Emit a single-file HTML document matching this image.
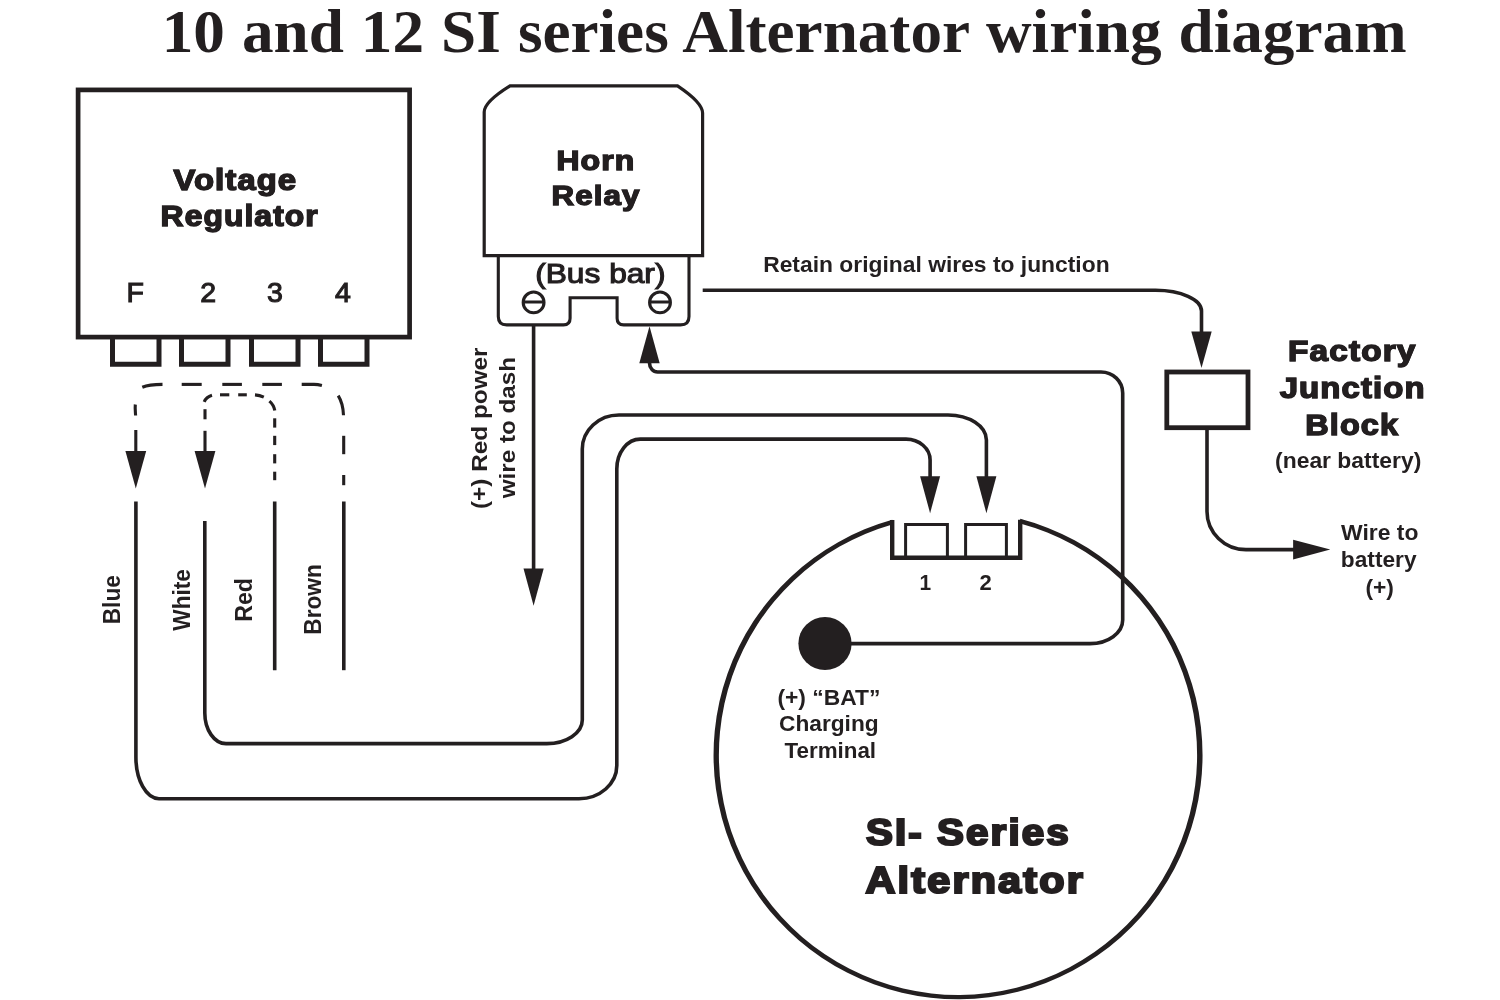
<!DOCTYPE html>
<html lang="en">
<head>
<meta charset="utf-8">
<title>10 and 12 SI series Alternator wiring diagram</title>
<style>
html,body{margin:0;padding:0;background:#fff;}
#page{position:relative;width:1500px;height:1000px;overflow:hidden;background:#fff;will-change:transform;filter:blur(0.55px);}
#art{position:absolute;left:0;top:0;display:block;}
.t{position:absolute;left:0;top:0;margin:0;padding:0;line-height:1;white-space:nowrap;color:#231f20;transform-origin:0 0;}
</style>
</head>
<body>
<div id="page">
<svg id="art" width="1500" height="1000" viewBox="0 0 1500 1000">
<!-- voltage regulator -->
<rect x="78.1" y="89.9" width="331.5" height="247.2" fill="none" stroke="#231f20" stroke-width="4.7"/>
<path d="M112.5,337 V364.3 H159.0 V337" fill="none" stroke="#231f20" stroke-width="5.0"/>
<path d="M181.5,337 V364.3 H228.0 V337" fill="none" stroke="#231f20" stroke-width="5.0"/>
<path d="M251.5,337 V364.3 H298.0 V337" fill="none" stroke="#231f20" stroke-width="5.0"/>
<path d="M320.5,337 V364.3 H367.0 V337" fill="none" stroke="#231f20" stroke-width="5.0"/>
<!-- dashed jumpers -->
<path d="M135.6,415.5 C135.3,411.5 134.9,408 135.3,404.5" fill="none" stroke="#231f20" stroke-width="3.1"/>
<path d="M142.3,387.2 C147.5,385 154,384.4 162.5,384.4" fill="none" stroke="#231f20" stroke-width="3.1"/>
<path d="M181.7,384.4 H201.7" fill="none" stroke="#231f20" stroke-width="3.1"/>
<path d="M222.3,384.4 H241.9" fill="none" stroke="#231f20" stroke-width="3.1"/>
<path d="M262.3,384.4 H281.9" fill="none" stroke="#231f20" stroke-width="3.1"/>
<path d="M301.7,384.4 H314 C317,384.4 319.5,384.8 321.9,385.4" fill="none" stroke="#231f20" stroke-width="3.1"/>
<path d="M338.2,395.6 C341.6,401 343.2,407.5 343.5,415.2" fill="none" stroke="#231f20" stroke-width="3.1"/>
<path d="M343.7,435.8 V454.2" fill="none" stroke="#231f20" stroke-width="3.1"/>
<path d="M343.7,475 V485.2" fill="none" stroke="#231f20" stroke-width="3.1"/>
<path d="M135.8,430 V453" fill="none" stroke="#231f20" stroke-width="3.1"/>
<path d="M205,430.8 V453" fill="none" stroke="#231f20" stroke-width="3.1"/>
<path d="M205,409.2 V419.3" fill="none" stroke="#231f20" stroke-width="3.1"/>
<path d="M204.2,401.8 C205.6,398.6 208.4,396.4 212,395.3" fill="none" stroke="#231f20" stroke-width="3.1"/>
<path d="M220,394.8 H229.3" fill="none" stroke="#231f20" stroke-width="3.1"/>
<path d="M238.2,394.8 H246.8" fill="none" stroke="#231f20" stroke-width="3.1"/>
<path d="M255,394.9 C258.4,395.2 261.2,396 263.8,397.2" fill="none" stroke="#231f20" stroke-width="3.1"/>
<path d="M269.4,401.2 C272.4,403.8 274.2,407 274.8,410.6" fill="none" stroke="#231f20" stroke-width="3.1"/>
<path d="M274.7,418.3 V427.6" fill="none" stroke="#231f20" stroke-width="3.1"/>
<path d="M274.7,435.8 V445.1" fill="none" stroke="#231f20" stroke-width="3.1"/>
<path d="M274.7,454.2 V463.4" fill="none" stroke="#231f20" stroke-width="3.1"/>
<path d="M274.7,471.7 V480.2" fill="none" stroke="#231f20" stroke-width="3.1"/>
<polygon points="135.8,488.5 125.4,451.0 135.8,451.0 146.2,451.0" fill="#231f20"/>
<polygon points="205.0,488.5 194.6,451.0 205.0,451.0 215.4,451.0" fill="#231f20"/>
<!-- wires -->
<path d="M135.9,501.5 V757.0 C135.9,780.0 146.2,798.7 159.0,798.7 H579.0 C599.9,798.7 616.8,783.9 616.8,765.6 V469.0 C616.8,452.5 627.3,439.1 640.3,439.1 H906.0 C919.3,439.1 930.1,448.5 930.1,460.0 V478.0" fill="none" stroke="#231f20" stroke-width="3.6"/>
<path d="M204.8,521.0 V713.0 C204.8,729.9 214.3,743.6 226.0,743.6 H546.8 C566.4,743.6 582.3,733.0 582.3,720.0 V449.0 C582.3,430.2 598.7,415.0 619.0,415.0 H948.0 C969.2,415.0 986.4,426.2 986.4,440.0 V478.0" fill="none" stroke="#231f20" stroke-width="3.6"/>
<path d="M274.7,501.5 V670.2" fill="none" stroke="#231f20" stroke-width="3.6"/>
<path d="M343.8,501.5 V670.2" fill="none" stroke="#231f20" stroke-width="3.6"/>
<polygon points="930.1,513.2 920.1,476.2 930.1,476.2 940.1,476.2" fill="#231f20"/>
<polygon points="986.4,513.2 976.4,476.2 986.4,476.2 996.4,476.2" fill="#231f20"/>
<!-- horn relay -->
<path d="M484.2,255.6 V112 Q484.2,101.8 510,85.8 H677.5 Q702.6,102.6 702.6,113 V255.6 Z" fill="none" stroke="#231f20" stroke-width="3.2" stroke-linejoin="miter"/>
<path d="M498.3,256 V316.5 Q498.3,324.9 506.7,324.9 H563.5 Q570.1,324.9 570.1,318.3 V297.7 H617.1 V318.3 Q617.1,324.9 623.7,324.9 H680.6 Q689,324.9 689,316.5 V256" fill="none" stroke="#231f20" stroke-width="3.1"/>
<circle cx="533.6" cy="302.4" r="10.4" fill="none" stroke="#231f20" stroke-width="3.1"/>
<path d="M523.6,302 H543.6" fill="none" stroke="#231f20" stroke-width="3"/>
<circle cx="660" cy="302.4" r="10.4" fill="none" stroke="#231f20" stroke-width="3.1"/>
<path d="M650,302 H670" fill="none" stroke="#231f20" stroke-width="3"/>
<path d="M533.6,326 V572" fill="none" stroke="#231f20" stroke-width="3.6"/>
<polygon points="533.6,605.8 523.5,568.4 533.6,568.4 543.7,568.4" fill="#231f20"/>
<path d="M850.0,643.6 H1090.0 C1108.1,643.6 1122.7,633.0 1122.7,620.0 V393.0 C1122.7,381.4 1113.0,372.0 1101.0,372.0 H657.6 C653.1,372.0 649.5,368.0 649.5,363.0 V360.0" fill="none" stroke="#231f20" stroke-width="3.6"/>
<polygon points="649.5,326.2 639.3,363.2 649.5,363.2 659.7,363.2" fill="#231f20"/>
<circle cx="825" cy="643.5" r="26.6" fill="#231f20"/>
<path d="M702.7,290.3 H1155.5 C1180.9,290.3 1201.5,299.6 1201.5,311.0 V335.0" fill="none" stroke="#231f20" stroke-width="3.6"/>
<polygon points="1201.5,368.0 1191.3,331.5 1201.5,331.5 1211.7,331.5" fill="#231f20"/>
<!-- junction block -->
<rect x="1166.8" y="372" width="81.2" height="55.7" fill="none" stroke="#231f20" stroke-width="4.8"/>
<path d="M1207.0,428.0 V511.5 C1207.0,532.5 1224.5,549.6 1246.0,549.6 H1296.0" fill="none" stroke="#231f20" stroke-width="3.6"/>
<polygon points="1330.3,549.6 1293.1,539.8 1293.1,549.6 1293.1,559.4" fill="#231f20"/>
<!-- alternator -->
<path d="M892.2,519.8 A244.5,244.2 0 1 0 1020.2,518.8 L1020.2,523.4 A239.1,239.9 0 1 1 892.2,524.4 Z" fill="#231f20"/>
<path d="M892.2,520 V557.7 H1020.2 V519.8" fill="none" stroke="#231f20" stroke-width="4.4" stroke-linejoin="miter"/>
<path d="M905.6,557 V524.6 H947.4 V557" fill="none" stroke="#231f20" stroke-width="3.0"/>
<path d="M965.6,557 V524.6 H1006.4 V557" fill="none" stroke="#231f20" stroke-width="3.0"/>
</svg>
<div class="t" style="font-family:'Liberation Serif','Times New Roman',Times,serif;font-weight:bold;font-size:61px;word-spacing:1.2px;transform:translate(161.72px,0.95px) scaleX(1.0359);">10 and 12 SI series Alternator wiring diagram</div>
<div class="t" style="font-family:'Liberation Sans',Arial,Helvetica,sans-serif;font-weight:bold;font-size:29.2px;-webkit-text-stroke:1.35px #231f20;text-shadow:0.5px 0 0 #231f20,-0.5px 0 0 #231f20;letter-spacing:1px;transform:translate(173.43px,166.38px) scaleX(1.1227);">Voltage</div>
<div class="t" style="font-family:'Liberation Sans',Arial,Helvetica,sans-serif;font-weight:bold;font-size:29.2px;-webkit-text-stroke:1.35px #231f20;text-shadow:0.5px 0 0 #231f20,-0.5px 0 0 #231f20;letter-spacing:1px;transform:translate(160.62px,202.38px) scaleX(1.0890);">Regulator</div>
<div class="t" style="font-family:'Liberation Sans',Arial,Helvetica,sans-serif;font-weight:normal;font-size:28.5px;-webkit-text-stroke:1.1px #231f20;transform:translate(126.49px,277.96px) scaleX(1.0000);">F</div>
<div class="t" style="font-family:'Liberation Sans',Arial,Helvetica,sans-serif;font-weight:normal;font-size:28.5px;-webkit-text-stroke:1.1px #231f20;transform:translate(200.20px,277.96px) scaleX(1.0000);">2</div>
<div class="t" style="font-family:'Liberation Sans',Arial,Helvetica,sans-serif;font-weight:normal;font-size:28.5px;-webkit-text-stroke:1.1px #231f20;transform:translate(267.00px,277.96px) scaleX(1.0000);">3</div>
<div class="t" style="font-family:'Liberation Sans',Arial,Helvetica,sans-serif;font-weight:normal;font-size:28.5px;-webkit-text-stroke:1.1px #231f20;transform:translate(335.00px,277.96px) scaleX(1.0000);">4</div>
<div class="t" style="font-family:'Liberation Sans',Arial,Helvetica,sans-serif;font-weight:bold;font-size:28px;-webkit-text-stroke:1.35px #231f20;text-shadow:0.5px 0 0 #231f20,-0.5px 0 0 #231f20;letter-spacing:1px;transform:translate(556.42px,147.40px) scaleX(1.1397);">Horn</div>
<div class="t" style="font-family:'Liberation Sans',Arial,Helvetica,sans-serif;font-weight:bold;font-size:28px;-webkit-text-stroke:1.35px #231f20;text-shadow:0.5px 0 0 #231f20,-0.5px 0 0 #231f20;letter-spacing:1px;transform:translate(551.49px,182.40px) scaleX(1.1167);">Relay</div>
<div class="t" style="font-family:'Liberation Sans',Arial,Helvetica,sans-serif;font-weight:normal;font-size:28px;-webkit-text-stroke:1.1px #231f20;transform:translate(535.19px,259.88px) scaleX(1.1314);">(Bus bar)</div>
<div class="t" style="font-family:'Liberation Sans',Arial,Helvetica,sans-serif;font-weight:bold;font-size:22.3px;transform:translate(763.17px,254.16px) scaleX(1.0243);">Retain original wires to junction</div>
<div class="t" style="font-family:'Liberation Sans',Arial,Helvetica,sans-serif;font-weight:bold;font-size:29.2px;-webkit-text-stroke:1.35px #231f20;text-shadow:0.5px 0 0 #231f20,-0.5px 0 0 #231f20;letter-spacing:1px;transform:translate(1287.95px,337.38px) scaleX(1.1439);">Factory</div>
<div class="t" style="font-family:'Liberation Sans',Arial,Helvetica,sans-serif;font-weight:bold;font-size:29.2px;-webkit-text-stroke:1.35px #231f20;text-shadow:0.5px 0 0 #231f20,-0.5px 0 0 #231f20;letter-spacing:1px;transform:translate(1279.69px,373.88px) scaleX(1.1269);">Junction</div>
<div class="t" style="font-family:'Liberation Sans',Arial,Helvetica,sans-serif;font-weight:bold;font-size:29.2px;-webkit-text-stroke:1.35px #231f20;text-shadow:0.5px 0 0 #231f20,-0.5px 0 0 #231f20;letter-spacing:1px;transform:translate(1305.29px,411.38px) scaleX(1.1110);">Block</div>
<div class="t" style="font-family:'Liberation Sans',Arial,Helvetica,sans-serif;font-weight:bold;font-size:22px;transform:translate(1275.08px,449.91px) scaleX(1.0398);">(near battery)</div>
<div class="t" style="font-family:'Liberation Sans',Arial,Helvetica,sans-serif;font-weight:bold;font-size:22px;transform:translate(1341.07px,522.41px) scaleX(1.0408);">Wire to</div>
<div class="t" style="font-family:'Liberation Sans',Arial,Helvetica,sans-serif;font-weight:bold;font-size:22px;transform:translate(1340.86px,549.41px) scaleX(1.0312);">battery</div>
<div class="t" style="font-family:'Liberation Sans',Arial,Helvetica,sans-serif;font-weight:bold;font-size:22px;transform:translate(1365.42px,577.41px) scaleX(1.0357);">(+)</div>
<div class="t" style="font-family:'Liberation Sans',Arial,Helvetica,sans-serif;font-weight:bold;font-size:22px;transform:translate(919.59px,572.41px) scaleX(0.9500);">1</div>
<div class="t" style="font-family:'Liberation Sans',Arial,Helvetica,sans-serif;font-weight:bold;font-size:22px;transform:translate(979.41px,572.41px) scaleX(1.0000);">2</div>
<div class="t" style="font-family:'Liberation Sans',Arial,Helvetica,sans-serif;font-weight:bold;font-size:22px;transform:translate(777.38px,686.91px) scaleX(1.0382);">(+) “BAT”</div>
<div class="t" style="font-family:'Liberation Sans',Arial,Helvetica,sans-serif;font-weight:bold;font-size:22px;transform:translate(778.97px,712.91px) scaleX(1.0326);">Charging</div>
<div class="t" style="font-family:'Liberation Sans',Arial,Helvetica,sans-serif;font-weight:bold;font-size:22px;transform:translate(784.50px,740.41px) scaleX(1.0165);">Terminal</div>
<div class="t" style="font-family:'Liberation Sans',Arial,Helvetica,sans-serif;font-weight:bold;font-size:36px;-webkit-text-stroke:2.2px #231f20;text-shadow:0.5px 0 0 #231f20,-0.5px 0 0 #231f20;letter-spacing:1.9px;transform:translate(865.90px,815.08px) scaleX(1.1192);">SI- Series</div>
<div class="t" style="font-family:'Liberation Sans',Arial,Helvetica,sans-serif;font-weight:bold;font-size:36px;-webkit-text-stroke:2.2px #231f20;text-shadow:0.5px 0 0 #231f20,-0.5px 0 0 #231f20;letter-spacing:1.9px;transform:translate(865.51px,863.08px) scaleX(1.1489);">Alternator</div>
<div class="t" style="font-family:'Liberation Sans',Arial,Helvetica,sans-serif;font-weight:bold;font-size:23.2px;transform:translate(101.40px,624.24px) rotate(-90deg) scaleX(0.9770);">Blue</div>
<div class="t" style="font-family:'Liberation Sans',Arial,Helvetica,sans-serif;font-weight:bold;font-size:23.2px;transform:translate(170.90px,630.73px) rotate(-90deg) scaleX(0.9767);">White</div>
<div class="t" style="font-family:'Liberation Sans',Arial,Helvetica,sans-serif;font-weight:bold;font-size:23.2px;transform:translate(233.40px,621.75px) rotate(-90deg) scaleX(0.9986);">Red</div>
<div class="t" style="font-family:'Liberation Sans',Arial,Helvetica,sans-serif;font-weight:bold;font-size:23.2px;transform:translate(301.90px,634.72px) rotate(-90deg) scaleX(0.9773);">Brown</div>
<div class="t" style="font-family:'Liberation Sans',Arial,Helvetica,sans-serif;font-weight:bold;font-size:21.6px;transform:translate(469.25px,509.00px) rotate(-90deg) scaleX(1.1270);">(+) Red power</div>
<div class="t" style="font-family:'Liberation Sans',Arial,Helvetica,sans-serif;font-weight:bold;font-size:21.6px;transform:translate(496.75px,498.32px) rotate(-90deg) scaleX(1.1226);">wire to dash</div>
</div>
</body>
</html>
